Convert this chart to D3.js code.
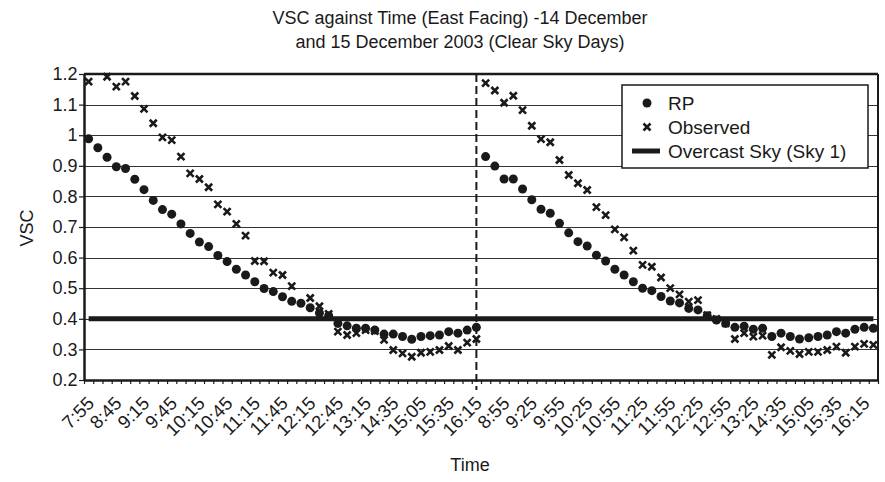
<!DOCTYPE html>
<html><head><meta charset="utf-8">
<script src="https://cdn.jsdelivr.net/npm/d3@7"></script>
<style>
body{margin:0;background:#fff}
svg{display:block}
text{font-family:"Liberation Sans",Arial,sans-serif;fill:#1a1a1a}
</style>
</head><body>
<svg id="c" width="885" height="482"></svg>
<script>
// ---- data ----
const day1Times = ["7:55","8:25","8:35","8:45","8:55","9:05","9:15","9:25","9:35","9:45","9:55","10:05","10:15","10:25","10:35","10:45","10:55","11:05","11:15","11:25","11:35","11:45","11:55","12:05","12:15","12:25","12:35","12:45","12:55","13:05","13:15","13:25","14:25","14:35","14:45","14:55","15:05","15:15","15:25","15:35","15:45","16:05","16:15"];
const day2Times = ["8:35","8:45","8:55","9:05","9:15","9:25","9:35","9:45","9:55","10:05","10:15","10:25","10:35","10:45","10:55","11:05","11:15","11:25","11:35","11:45","11:55","12:05","12:15","12:25","12:35","12:45","12:55","13:05","13:15","13:25","13:35","14:25","14:35","14:45","14:55","15:05","15:15","15:25","15:35","15:45","16:05","16:15","16:25"];
const rpDay1 = [0.988,0.959,0.928,0.897,0.891,0.856,0.822,0.787,0.757,0.742,0.710,0.679,0.651,0.636,0.607,0.587,0.562,0.543,0.521,0.499,0.489,0.472,0.457,0.451,0.436,0.419,0.410,0.385,0.377,0.369,0.369,0.363,0.350,0.350,0.342,0.333,0.342,0.345,0.347,0.358,0.353,0.363,0.372];
const obsDay1 = [1.175,null,1.191,1.159,1.175,1.128,1.086,1.039,0.993,0.984,0.930,0.875,0.857,0.830,0.774,0.750,0.710,0.672,0.589,0.588,0.551,0.543,0.507,null,0.468,0.441,0.416,0.358,0.347,0.353,0.363,0.360,0.331,0.298,0.287,0.276,0.289,0.292,0.298,0.311,0.298,0.322,0.334];
const rpDay2 = [0.930,0.899,0.857,0.857,0.824,0.789,0.758,0.745,0.712,0.681,0.652,0.638,0.608,0.589,0.562,0.543,0.521,0.500,0.492,0.473,0.458,0.452,0.434,0.429,0.410,0.396,0.385,0.372,0.376,0.366,0.369,0.342,0.353,0.342,0.334,0.338,0.342,0.347,0.358,0.353,0.366,0.372,0.369];
const obsDay2 = [1.170,1.146,1.106,1.129,1.082,1.031,0.987,0.977,0.919,0.870,0.843,0.821,0.765,0.739,0.692,0.666,0.623,0.576,0.570,0.535,0.500,0.480,0.456,0.461,0.412,0.400,0.385,0.334,0.353,0.342,0.345,0.282,0.307,0.295,0.285,0.292,0.292,0.298,0.309,0.289,0.309,0.318,0.315];
const overcastSky = 0.4;
const yTicks = [0.2,0.3,0.4,0.5,0.6,0.7,0.8,0.9,1.0,1.1,1.2];
const yTickLabels = ["0.2","0.3","0.4","0.5","0.6","0.7","0.8","0.9","1","1.1","1.2"];
const labelEvery = 3;
const titleLines = ["VSC against Time (East Facing) -14 December","and 15 December 2003 (Clear Sky Days)"];
const legendItems = ["RP","Observed","Overcast Sky (Sky 1)"];

// ---- build ----
const times = day1Times.concat(day2Times);
const rp = rpDay1.concat(rpDay2);
const obs = obsDay1.concat(obsDay2);
const n = times.length;
const idx = d3.range(n);
const dayBreak = day1Times.length - 1;

const L = 84, R = 878, T = 74, B = 380;
const svg = d3.select("#c");
const x = d3.scaleBand().domain(idx).range([L, R]);
const xb = d3.scaleLinear().domain([0, n]).range([L, R]);
const cx = i => x(i) + x.bandwidth() / 2;
const y = d3.scaleLinear().domain([0.2, 1.2]).range([B, T]);
const ink = "#1a1a1a";
const font = "'Liberation Sans',Arial,sans-serif";

// gridlines
svg.append("g").selectAll("line").data(yTicks.filter(v => v > 0.2 && v < 1.2)).join("line")
  .attr("x1", L).attr("x2", R)
  .attr("y1", d => Math.round(y(d)) + 0.5).attr("y2", d => Math.round(y(d)) + 0.5)
  .attr("stroke", "#333").attr("stroke-width", 1);

// top and right border
svg.append("line").attr("x1", L).attr("x2", R).attr("y1", T).attr("y2", T).attr("stroke", ink).attr("stroke-width", 2.5);
svg.append("line").attr("x1", R).attr("x2", R).attr("y1", T).attr("y2", B).attr("stroke", ink).attr("stroke-width", 2);

// x ticks (between categories)
const gxt = svg.append("g").attr("transform", `translate(0,${B})`)
  .call(d3.axisBottom(xb).tickValues(d3.range(n + 1)).tickFormat("").tickSize(4).tickSizeOuter(0));
gxt.select(".domain").attr("stroke", ink).attr("stroke-width", 2.5);
gxt.selectAll(".tick line").attr("stroke", ink).attr("stroke-width", 1.2);

// x labels
const gxl = svg.append("g").attr("transform", `translate(0,${B})`)
  .call(d3.axisBottom(x).tickValues(idx.filter(i => i % labelEvery === 0)).tickFormat(i => times[i]).tickSize(0));
gxl.select(".domain").remove();
gxl.selectAll("text")
  .attr("x", 0).attr("y", 0).attr("dy", "0.35em")
  .attr("text-anchor", "end")
  .attr("transform", "translate(2,20) rotate(-45)")
  .style("font-size", "18.5px").style("font-family", font).attr("fill", ink);

// y axis
const gy = svg.append("g").attr("transform", `translate(${L},0)`)
  .call(d3.axisLeft(y).tickValues(yTicks).tickFormat((d, i) => yTickLabels[i]).tickSize(5).tickSizeOuter(0).tickPadding(1.5));
gy.select(".domain").attr("stroke", ink).attr("stroke-width", 2.5);
gy.selectAll(".tick line").attr("stroke", ink).attr("stroke-width", 1.2);
gy.selectAll("text").style("font-size", "18px").style("font-family", font).attr("fill", ink);

// dashed day separator
svg.append("line").attr("x1", cx(dayBreak)).attr("x2", cx(dayBreak)).attr("y1", T).attr("y2", B + 10)
  .attr("stroke", ink).attr("stroke-width", 2).attr("stroke-dasharray", "8,4");

// overcast line
svg.append("path")
  .datum(idx)
  .attr("d", d3.line().x(i => cx(i)).y(() => y(overcastSky)))
  .attr("fill", "none").attr("stroke", ink).attr("stroke-width", 5);

// RP dots
svg.append("g").selectAll("circle").data(idx.filter(i => rp[i] != null)).join("circle")
  .attr("cx", i => cx(i)).attr("cy", i => y(rp[i])).attr("r", 4.5).attr("fill", ink);

// observed crosses
const cross = (g, s) => g.append("path").attr("d", `M${-s},${-s}L${s},${s}M${-s},${s}L${s},${-s}`)
  .attr("stroke", ink).attr("stroke-width", 2.6).attr("fill", "none");
svg.append("g").selectAll("g").data(idx.filter(i => obs[i] != null)).join("g")
  .attr("transform", i => `translate(${cx(i)},${y(obs[i])})`)
  .each(function () { cross(d3.select(this), 3.5); });

// legend
const lg = svg.append("g");
lg.append("rect").attr("x", 622).attr("y", 85).attr("width", 246).attr("height", 83)
  .attr("fill", "#fff").attr("stroke", ink).attr("stroke-width", 1.5);
const ly = [103, 127, 151];
lg.append("circle").attr("cx", 647).attr("cy", ly[0]).attr("r", 4.5).attr("fill", ink);
cross(lg.append("g").attr("transform", `translate(647,${ly[1]})`), 3.5);
lg.append("line").attr("x1", 632).attr("x2", 660).attr("y1", ly[2]).attr("y2", ly[2]).attr("stroke", ink).attr("stroke-width", 5);
lg.selectAll("text").data(legendItems).join("text")
  .attr("x", 668).attr("y", (d, i) => ly[i]).attr("dy", "0.35em")
  .style("font-size", "19px").text(d => d);

// titles
svg.append("g").selectAll("text").data(titleLines).join("text")
  .attr("x", 460).attr("y", (d, i) => 24 + i * 24).attr("text-anchor", "middle")
  .style("font-size", "18px").text(d => d);
svg.append("text").attr("x", 470).attr("y", 471).attr("text-anchor", "middle").style("font-size", "18px").text("Time");
svg.append("text").attr("transform", "translate(33,228) rotate(-90)").attr("text-anchor", "middle").style("font-size", "18px").text("VSC");
</script>
</body></html>
